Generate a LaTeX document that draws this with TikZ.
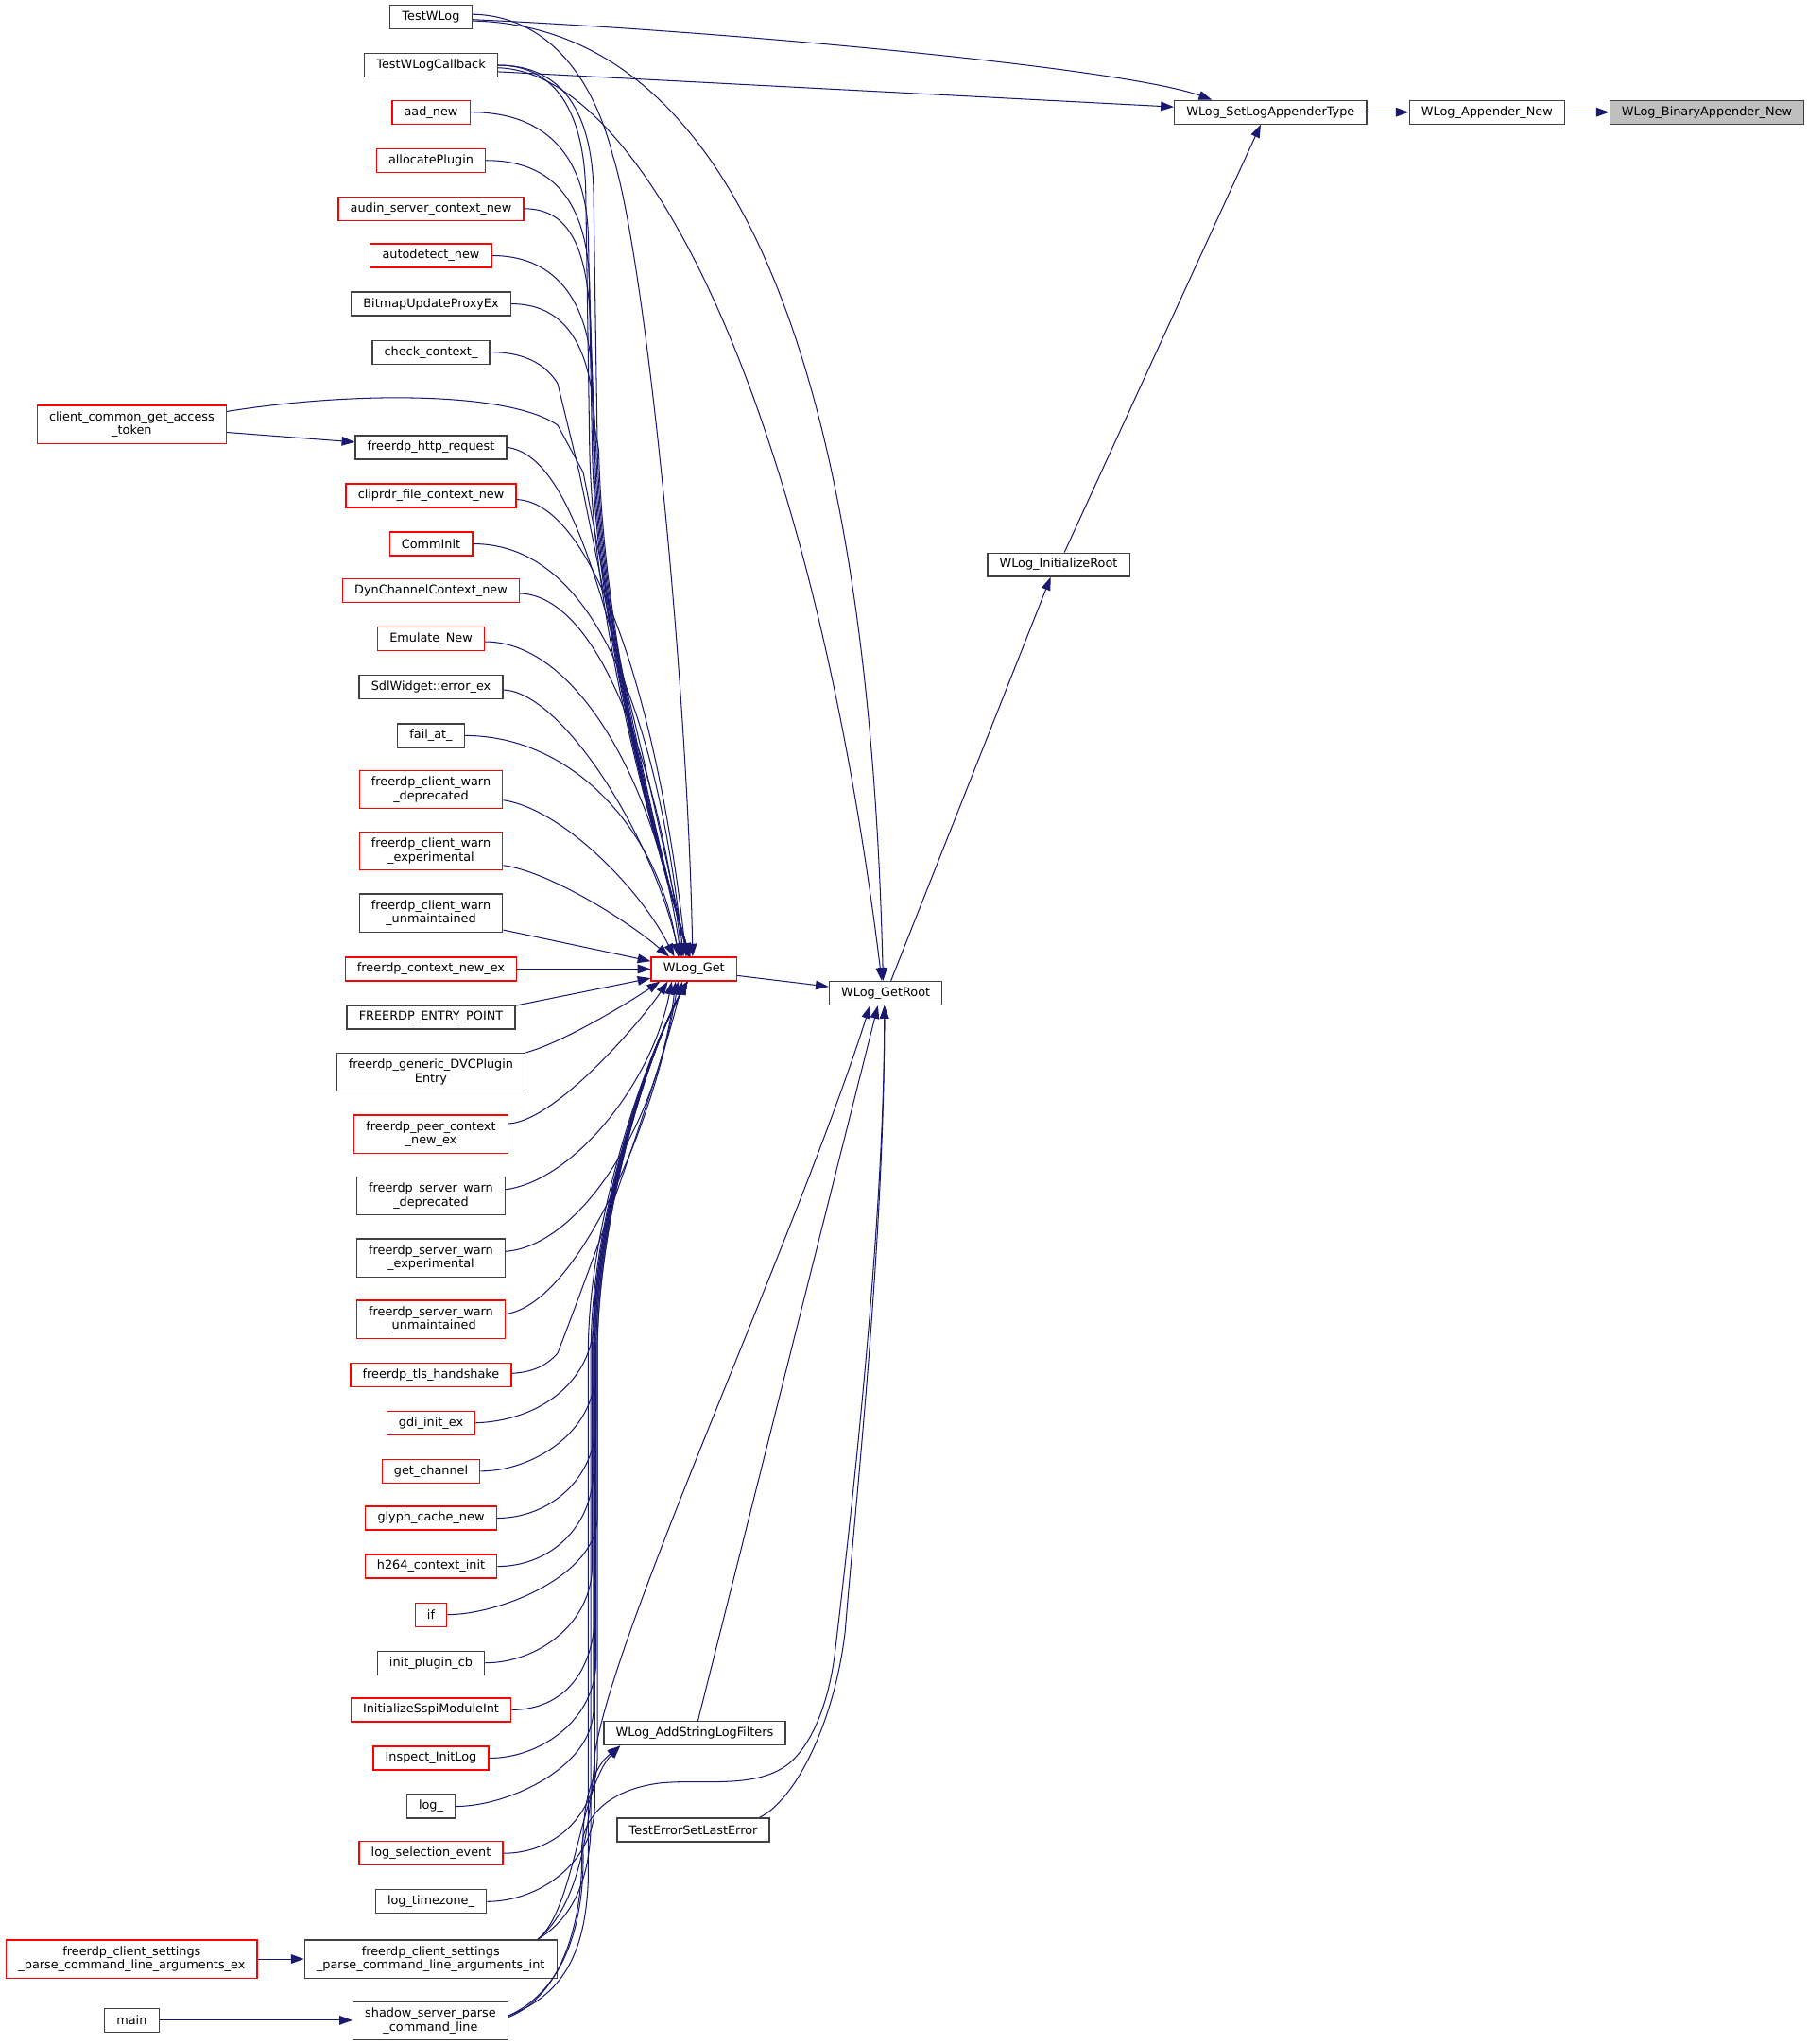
\documentclass[tikz,border=0pt]{standalone}
\usepackage{fontspec}
\setmainfont{DejaVu Sans}
\usetikzlibrary{arrows.meta,calc}
\definecolor{edgeblue}{HTML}{191970}
\definecolor{nodegray}{HTML}{404040}
\definecolor{nodered}{HTML}{FF0000}
\definecolor{mainfill}{HTML}{BFBFBF}
\tikzset{
  fn/.style={draw=nodegray, fill=white, line width=0.9pt, rectangle, inner xsep=9.2pt, inner ysep=1pt,
             minimum height=18.1pt, font=\fontsize{9.3}{10.3}\selectfont, align=center},
  fnr/.style={fn, draw=nodered},
  two/.style={minimum height=29.2pt},
  edge/.style={draw=edgeblue, line width=0.75pt, -{Triangle[length=10pt,width=7pt]}},
}
\newcommand\upedge[4]{%
  \draw[edge] (#1.east) .. controls +(#2,0) and ({#3-2},{#4+30}) .. (#3,{#4+95}) -- ({#3+3},345)
    .. controls ({#3+6},480) and (500,640) .. ($(Get.north)+(-3,0)$);}
\newcommand\lowedge[3]{%
  \draw[edge] (#1.east) .. controls +(40,0) and (#2,{#3-30}) .. (#2,{#3-75}) -- (#2,1030)
    .. controls ({#2+2},930) and (495,810) .. ($(Get.south)+(-5,0)$);}
\begin{document}
\begin{tikzpicture}[x=1pt,y=-1pt]
\useasboundingbox (0,0) rectangle (1386,1567.2);
% column 2
\node[fn]  (TW)    at (330.4,13)   {TestWLog};
\node[fn]  (TWC)   at (330.4,50)   {TestWLogCallback};
\node[fnr] (aad)   at (330.4,86)   {aad\_new};
\node[fnr] (alloc) at (330.4,123)  {allocatePlugin};
\node[fnr] (audin) at (330.4,160)  {audin\_server\_context\_new};
\node[fnr] (autod) at (330.4,196)  {autodetect\_new};
\node[fn]  (bmp)   at (330.4,233)  {BitmapUpdateProxyEx};
\node[fn]  (chk)   at (330.4,270)  {check\_context\_};
\node[fn]  (http)  at (330.4,343)  {freerdp\_http\_request};
\node[fnr] (clip)  at (330.4,380)  {cliprdr\_file\_context\_new};
\node[fnr] (comm)  at (330.4,417)  {CommInit};
\node[fnr] (dyn)   at (330.4,453)  {DynChannelContext\_new};
\node[fnr] (emu)   at (330.4,490)  {Emulate\_New};
\node[fn]  (sdl)   at (330.4,527)  {SdlWidget::error\_ex};
\node[fn]  (fail)  at (330.4,564)  {fail\_at\_};
\node[fnr,two] (cwd) at (330.4,605.5) {freerdp\_client\_warn\\\_deprecated};
\node[fnr,two] (cwe) at (330.4,652.5) {freerdp\_client\_warn\\\_experimental};
\node[fn,two]  (cwu) at (330.4,700)   {freerdp\_client\_warn\\\_unmaintained};
\node[fnr] (cne)   at (330.4,743)  {freerdp\_context\_new\_ex};
\node[fn]  (ep)    at (330.4,780)  {FREERDP\_ENTRY\_POINT};
\node[fn,two]  (dvc) at (330.4,822)   {freerdp\_generic\_DVCPlugin\\Entry};
\node[fnr,two] (pce) at (330.4,869.5) {freerdp\_peer\_context\\\_new\_ex};
\node[fn,two]  (swd) at (330.4,917)   {freerdp\_server\_warn\\\_deprecated};
\node[fn,two]  (swe) at (330.4,964.5) {freerdp\_server\_warn\\\_experimental};
\node[fnr,two] (swu) at (330.4,1011.5){freerdp\_server\_warn\\\_unmaintained};
\node[fnr] (tls)   at (330.4,1054) {freerdp\_tls\_handshake};
\node[fnr] (gdi)   at (330.4,1091) {gdi\_init\_ex};
\node[fnr] (gch)   at (330.4,1128) {get\_channel};
\node[fnr] (glyph) at (330.4,1164) {glyph\_cache\_new};
\node[fnr] (h264)  at (330.4,1201) {h264\_context\_init};
\node[fnr] (nif)   at (330.4,1238) {if};
\node[fn]  (ipc)   at (330.4,1275) {init\_plugin\_cb};
\node[fnr] (sspi)  at (330.4,1311) {InitializeSspiModuleInt};
\node[fnr] (insp)  at (330.4,1348) {Inspect\_InitLog};
\node[fn]  (log)   at (330.4,1385) {log\_};
\node[fnr] (lse)   at (330.4,1421) {log\_selection\_event};
\node[fn]  (ltz)   at (330.4,1458) {log\_timezone\_};
\node[fn,two]  (pint)   at (330.2,1502)  {freerdp\_client\_settings\\\_parse\_command\_line\_arguments\_int};
\node[fn,two]  (shadow) at (330,1549.5)  {shadow\_server\_parse\\\_command\_line};
% column 1
\node[fnr,two] (cc)  at (101,325.5) {client\_common\_get\_access\\\_token};
\node[fnr,two] (pex) at (101,1502)  {freerdp\_client\_settings\\\_parse\_command\_line\_arguments\_ex};
\node[fn]      (main) at (101,1549) {main};
% right part
\node[fnr] (Get) at (532,743)    {WLog\_Get};
\node[fn]  (ASL) at (532.5,1329) {WLog\_AddStringLogFilters};
\node[fn]  (TES) at (531.5,1403) {TestErrorSetLastError};
\node[fn]  (GR)  at (679,761.5)  {WLog\_GetRoot};
\node[fn]  (IR)  at (811.5,433)  {WLog\_InitializeRoot};
\node[fn]  (SL)  at (974,86)     {WLog\_SetLogAppenderType};
\node[fn]  (AN)  at (1140,86)    {WLog\_Appender\_New};
\node[fn,fill=mainfill] (BN) at (1308.5,86) {WLog\_BinaryAppender\_New};

% ---- edges on the right
\draw[edge] (AN.east) -- (BN.west);
\draw[edge] (SL.east) -- (AN.west);
\draw[edge] ($(IR.north)+(4.5,0)$) -- ($(SL.south)+(-7.5,0)$);
\draw[edge] ($(GR.north)+(4,0)$) -- ($(IR.south)+(-6,0)$);
\draw[edge] ($(Get.east)+(0,5)$) -- ($(GR.west)+(0,-5)$);
% ---- TestWLog / TestWLogCallback
\draw[edge] ($(TW.east)+(0,2)$) .. controls (560,24) and (860,52) .. ($(SL.north)+(-45,0)$);
\draw[edge] ($(TWC.east)+(0,5)$) -- ($(SL.west)+(0,-4)$);
\draw[edge] ($(TW.east)+(0,-2)$) .. controls (420,12) and (455,60) .. (470,120)
   .. controls (495,200) and (527,520) .. ($(Get.north)+(-1,0)$);
\draw[edge] ($(TW.east)+(0,3)$) .. controls (550,20) and (665,250) .. ($(GR.north)+(-2,0)$);
\draw[edge] ($(TWC.east)+(0,2)$) .. controls (490,55) and (620,300) .. ($(GR.north)+(-3,0)$);
\upedge{TWC}{40}{449}{50}
\upedge{TWC}{45}{455}{50}
% ---- upper bundle
\upedge{aad}{55}{451}{86}
\upedge{alloc}{50}{452}{123}
\upedge{audin}{35}{453}{160}
\upedge{autod}{45}{454}{196}
\upedge{bmp}{40}{456}{233}
\draw[edge] (chk.east) .. controls +(30,0) and (420,282) .. (427.5,294) -- (444,362)
   .. controls (452,400) and (495,620) .. ($(Get.north)+(-4,0)$);
\draw[edge] ($(cc.east)+(0,-10)$) .. controls (270,300) and (390,300) .. (427.5,326) -- (447,362)
   .. controls (455,400) and (495,620) .. ($(Get.north)+(-4,0)$);
\draw[edge] ($(cc.east)+(0,6)$) -- ($(http.west)+(0,-4)$);
\draw[edge] (http.east) .. controls (440,350) and (470,470) .. ($(Get.north)+(-5,0)$);
% ---- individual upper curves
\draw[edge] ($(clip.east)+(0,3)$) .. controls (455,385) and (505,540) .. ($(Get.north)+(-6,0)$);
\draw[edge] (comm.east) .. controls (460,417) and (505,560) .. ($(Get.north)+(-8,0)$);
\draw[edge] ($(dyn.east)+(0,2)$) .. controls (460,457) and (505,590) .. ($(Get.north)+(-9,0)$);
\draw[edge] ($(emu.east)+(0,2)$) .. controls (445,492) and (505,610) .. ($(Get.north)+(-10,0)$);
\draw[edge] ($(sdl.east)+(0,2)$) .. controls (430,530) and (500,640) .. ($(Get.north)+(-11,0)$);
\draw[edge] (fail.east) .. controls (439,564) and (505,637) .. ($(Get.north)+(-12,0)$);
\draw[edge] ($(cwd.east)+(0,8)$) .. controls (430,620) and (490,680) .. ($(Get.north)+(-15,0)$);
\draw[edge] ($(cwe.east)+(0,11)$) .. controls (420,668) and (480,705) .. ($(Get.north)+(-19,0)$);
\draw[edge] ($(cwu.east)+(0,13)$) -- ($(Get.west)+(0,-6)$);
\draw[edge] (cne.east) -- (Get.west);
\draw[edge] ($(ep.east)+(0,-9)$) -- ($(Get.west)+(0,7)$);
% ---- individual lower curves
\draw[edge] ($(dvc.east)+(0,-15)$) .. controls (430,800) and (480,770) .. ($(Get.south)+(-26,0)$);
\draw[edge] ($(pce.east)+(0,-8)$) .. controls (425,860) and (490,785) .. ($(Get.south)+(-20,0)$);
\draw[edge] ($(swd.east)+(0,-5)$) .. controls (440,905) and (500,830) .. ($(Get.south)+(-17,0)$);
\draw[edge] ($(swe.east)+(0,-5)$) .. controls (445,955) and (505,860) .. ($(Get.south)+(-14,0)$);
\draw[edge] ($(swu.east)+(0,-4)$) .. controls (440,1000) and (500,870) .. ($(Get.south)+(-12,0)$);
\draw[edge] ($(tls.east)+(0,-1)$) .. controls (410,1052) and (420,1046) .. (427.5,1037.5)
   .. controls (465,940) and (510,810) .. ($(Get.south)+(-9,0)$);
\draw[edge] (gdi.east) .. controls +(50,-2) and (450,1060) .. (455,1020)
   .. controls (457,930) and (495,810) .. ($(Get.south)+(-5,0)$);
% ---- lower bundle
\lowedge{gch}{456}{1128}
\lowedge{glyph}{457}{1164}
\lowedge{h264}{455}{1201}
\lowedge{nif}{458}{1238}
\lowedge{ipc}{454}{1275}
\lowedge{sspi}{456}{1311}
\lowedge{insp}{457}{1348}
\lowedge{log}{455}{1385}
\lowedge{lse}{458}{1421}
\lowedge{ltz}{456}{1458}
% ---- command line parsers
\draw[edge] ($(pint.north east)+(-15,0)$) .. controls (440,1470) and (452,1440) .. (453,1400) -- (453,1030)
   .. controls (455,930) and (495,810) .. ($(Get.south)+(-5,0)$);
\draw[edge] ($(pint.north east)+(-15,0)$) .. controls (440,1465) and (445,1370) .. ($(ASL.south west)+(13,0)$);
\draw[edge] ($(pint.north east)+(-15,0)$) .. controls (445,1460) and (452,1400) .. (456,1345)
   .. controls (470,1250) and (610,950) .. ($(GR.south)+(-12,0)$);
\draw[edge] ($(shadow.east)+(0,-4)$) .. controls (430,1530) and (449,1500) .. (451,1440) -- (451,1030)
   .. controls (453,930) and (495,810) .. ($(Get.south)+(-5,0)$);
\draw[edge] ($(shadow.east)+(0,-4)$) .. controls (435,1525) and (448,1470) .. (447,1420)
   .. controls (446,1380) and (455,1355) .. ($(ASL.south west)+(13,0)$);
\draw[edge] ($(shadow.east)+(0,-3)$) .. controls (432,1530) and (447,1470) .. (446,1420)
   .. controls (445,1395) and (465,1372) .. (507,1367)
   .. controls (540,1364) and (580,1372) .. (605,1352)
   .. controls (625,1335) and (636,1300) .. (640,1268)
   .. controls (648,1200) and (678,950) .. ($(GR.south)+(-1,0)$);
\draw[edge] ($(TES.north east)+(-8,0)$) .. controls (610,1380) and (640,1320) .. (648,1250)
   .. controls (656,1150) and (678,950) .. ($(GR.south)+(-1,0)$);
\draw[edge] ($(ASL.north)+(2.5,0)$) -- ($(GR.south)+(-6,0)$);
\draw[edge] (pex.east) -- (pint.west);
\draw[edge] (main.east) -- (main.east -| shadow.west);
\end{tikzpicture}
\end{document}
